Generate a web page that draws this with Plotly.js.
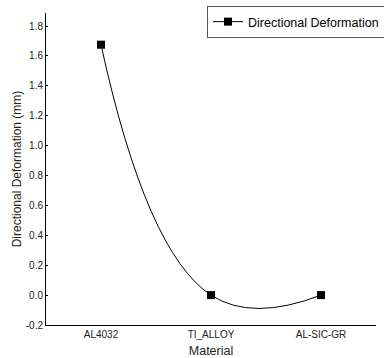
<!DOCTYPE html>
<html>
<head>
<meta charset="utf-8">
<script src="https://cdn.plot.ly/plotly-3.0.1.min.js"></script>
<style>html,body{margin:0;padding:0;background:#fff;}#chart{width:384px;height:358px;}</style>
</head>
<body>
<div id="chart"></div>
<script>
var categories = ["AL4032", "TI_ALLOY", "AL-SIC-GR"];
var deformation = [1.675, 0.0, 0.0];
var yTickVals = [-0.2, 0.0, 0.2, 0.4, 0.6, 0.8, 1.0, 1.2, 1.4, 1.6, 1.8];
var yTickText = ["-0.2", "0.0", "0.2", "0.4", "0.6", "0.8", "1.0", "1.2", "1.4", "1.6", "1.8"];

var FONT = "Liberation Sans, Arial, sans-serif";

var trace = {
  x: categories,
  y: deformation,
  type: "scatter",
  mode: "lines+markers",
  name: "Directional Deformation",
  line: {color: "#000", width: 1, shape: "spline", smoothing: 1.3},
  marker: {symbol: "square", size: 8, color: "#000"}
};

var layout = {
  width: 384, height: 358,
  margin: {l: 46, r: 8, t: 13, b: 33, autoexpand: false},
  paper_bgcolor: "#fff", plot_bgcolor: "#fff",
  font: {family: FONT, color: "#000"},
  showlegend: true,
  legend: {
    xref: "container", yref: "container",
    x: 207 / 384, xanchor: "left", y: 1 - 6 / 358, yanchor: "top",
    bordercolor: "#555", borderwidth: 1, bgcolor: "#fff",
    font: {size: 12.5, color: "#000", family: FONT},
    itemwidth: 30, tracegroupgap: 0
  },
  xaxis: {
    type: "category",
    range: [-0.5, 2.5],
    showgrid: false, zeroline: false,
    showline: true, linecolor: "#000", linewidth: 1,
    ticks: "", tickfont: {size: 10, color: "#222", family: FONT},
    title: {text: "Material", font: {size: 12.5, color: "#222", family: FONT}, standoff: 8}
  },
  yaxis: {
    range: [-0.2, 1.887],
    tickvals: yTickVals, ticktext: yTickText,
    showgrid: false, zeroline: false,
    showline: true, linecolor: "#000", linewidth: 1,
    ticks: "inside", ticklen: 2, tickcolor: "#000",
    tickfont: {size: 10, color: "#222", family: FONT},
    title: {text: "Directional Deformation (mm)", font: {size: 12, color: "#222", family: FONT}, standoff: 1}
  }
};

Plotly.newPlot("chart", [trace], layout, {displayModeBar: false, staticPlot: true});
</script>
</body>
</html>
